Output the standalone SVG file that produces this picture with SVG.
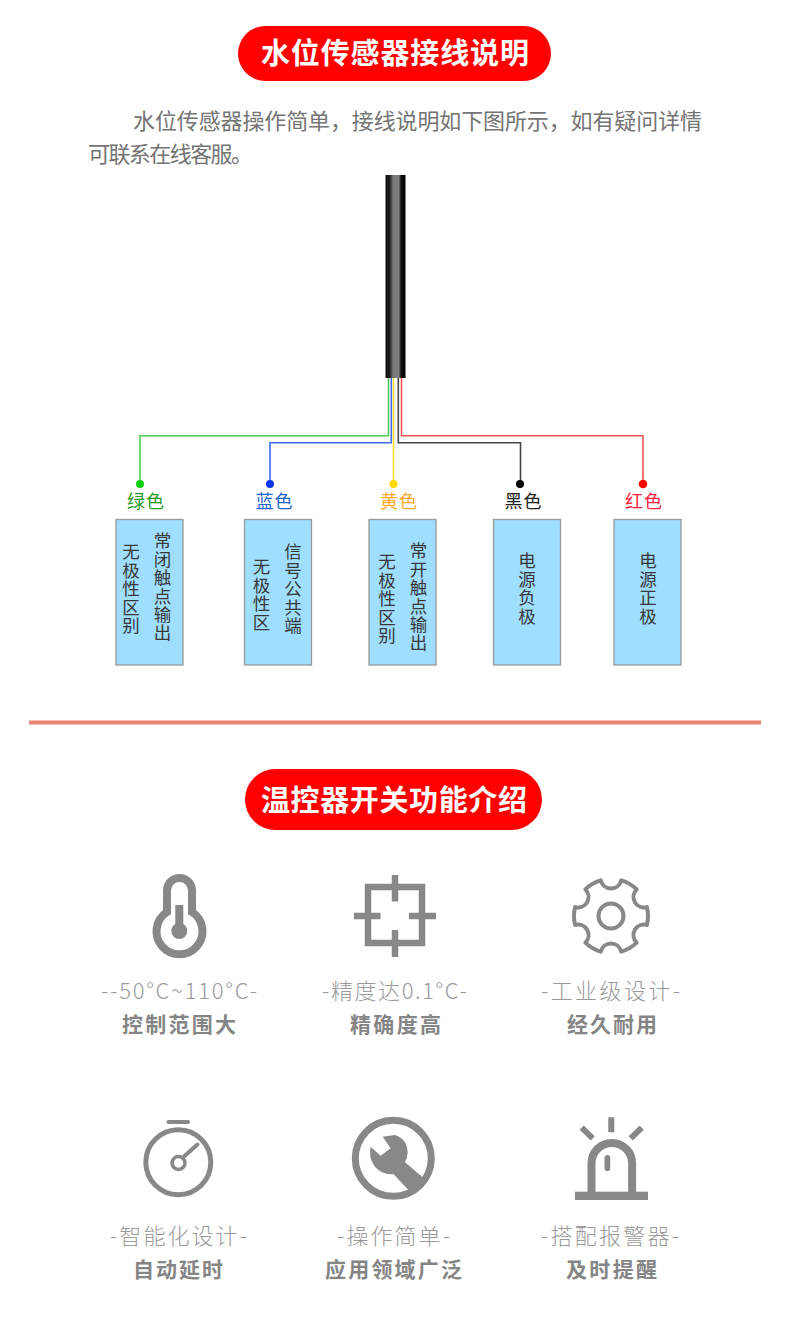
<svg xmlns="http://www.w3.org/2000/svg" width="790" height="1319" viewBox="0 0 790 1319">
<style>
text{font-family:"Noto Sans CJK SC","Noto Sans",sans-serif}
.pill{fill:#ff0000}
.title{fill:#fff;font-size:29px;font-weight:700;text-anchor:middle}
.para{fill:#747474;font-size:22px}
.box{fill:#9fdeff;stroke:#999;stroke-width:1.3}
.v{fill:#383838;font-size:17.5px;writing-mode:vertical-rl;letter-spacing:.9px}
.lab{font-size:18px;font-weight:400;letter-spacing:1px;text-anchor:middle}
.w{fill:none;stroke-width:1.6}
.sub{fill:#9a9a9a;font-size:22px;font-weight:300;text-anchor:middle}
.name{fill:#858585;font-size:21px;font-weight:700;text-anchor:middle}
.ic{fill:none;stroke:#888}
.if{fill:#888}
</style>
<defs>
<linearGradient id="cable" x1="0" x2="1" y1="0" y2="0">
<stop offset="0" stop-color="#111"/><stop offset=".2" stop-color="#1c1c1c"/><stop offset=".38" stop-color="#777"/><stop offset=".66" stop-color="#808080"/><stop offset=".78" stop-color="#111"/><stop offset="1" stop-color="#000"/>
</linearGradient>
</defs>
<rect width="790" height="1319" fill="#fff"/>

<g id="title1"><rect class="pill" x="238" y="26" width="313" height="55" rx="27.5"/><text class="title" x="395" y="64" textLength="268">水位传感器接线说明</text></g>
<g id="intro">
<text class="para" x="133" y="129" textLength="569">水位传感器操作简单，接线说明如下图所示，如有疑问详情</text>
<text class="para" x="88" y="162" textLength="165">可联系在线客服。</text>
</g>

<g id="cable-body"><rect x="385.500" y="175" width="20" height="203" fill="url(#cable)"/></g>

<g id="connectors">
<path class="w" stroke="#4fd04f" d="M388.500 378V435.700H140V484"/>
<path class="w" stroke="#3f6cf0" d="M391.300 378V442.700H270V484"/>
<path class="w" stroke="#ffdc2e" d="M393.500 378V484"/>
<path class="w" stroke="#444" d="M398.300 378V442.700H520.500V484"/>
<path class="w" stroke="#f45555" d="M401.500 378V435.700H643V484"/>
<circle cx="140" cy="484" r="4" fill="#10d010"/>
<circle cx="270" cy="484" r="4" fill="#0a35f0"/>
<circle cx="393.500" cy="484" r="4" fill="#ffd800"/>
<circle cx="520" cy="484" r="4" fill="#000"/>
<circle cx="643" cy="484" r="4.300" fill="#ff0000"/>
</g>

<g id="node-green"><text class="lab" x="146" y="508" fill="#1f9a1f">绿色</text><rect class="box" x="116" y="519.500" width="67" height="145.500"/><text class="v" x="131" y="543">无极性区别</text><text class="v" x="162.500" y="532">常闭触点输出</text></g>
<g id="node-blue"><text class="lab" x="274.500" y="508" fill="#1f66cc">蓝色</text><rect class="box" x="244.500" y="519.500" width="67" height="145.500"/><text class="v" x="261.500" y="558">无极性区</text><text class="v" x="293" y="543">信号公共端</text></g>
<g id="node-yellow"><text class="lab" x="399" y="508" fill="#ffa726">黄色</text><rect class="box" x="369" y="519.500" width="67" height="145.500"/><text class="v" x="387" y="553">无极性区别</text><text class="v" x="418.500" y="542">常开触点输出</text></g>
<g id="node-black"><text class="lab" x="523.500" y="508" fill="#222">黑色</text><rect class="box" x="493.500" y="519.500" width="67" height="145.500"/><text class="v" x="527" y="552">电源负极</text></g>
<g id="node-red"><text class="lab" x="644" y="508" fill="#ff2040">红色</text><rect class="box" x="614" y="519.500" width="67" height="145.500"/><text class="v" x="648" y="552">电源正极</text></g>

<rect id="divider" x="29" y="720.500" width="732" height="4" fill="#ea8577"/>

<g id="title2"><rect class="pill" x="245" y="769" width="297" height="61" rx="30.500"/><text class="title" x="394" y="811" textLength="266">温控器开关功能介绍</text></g>

<g id="feature-temp">
<path class="ic" stroke-width="8" d="M167 912V890.500a12.500 12.500 0 0 1 25 0V912A23 23 0 1 1 167 912Z"/>
<rect class="if" x="175.300" y="905" width="8" height="26"/><circle class="if" cx="179.300" cy="931" r="8"/>
<text class="sub" x="179" y="999" textLength="156">--50°C~110°C-</text><text class="name" x="179" y="1032" textLength="114">控制范围大</text>
</g>
<g id="feature-precision">
<rect class="ic" stroke-width="6.500" x="368" y="887" width="54" height="56"/>
<path class="ic" stroke-width="6.500" d="M395 875V901.500M395 930V957M354 916H380.500M409 916H436"/>
<text class="sub" x="394.500" y="999" textLength="145">-精度达0.1°C-</text><text class="name" x="395.500" y="1032" textLength="91">精确度高</text>
</g>
<g id="feature-industrial">
<path class="ic" stroke-width="4" stroke-linejoin="round" transform="translate(611 916)" d="M35.900-8.950A37 37 0 0 1 35.900 8.950A10.500 10.500 0 0 0 25.700 26.600A37 37 0 0 1 10.200 35.600A10.500 10.500 0 0 0-10.200 35.600A37 37 0 0 1-25.700 26.600A10.500 10.500 0 0 0-35.900 8.950A37 37 0 0 1-35.900-8.950A10.500 10.500 0 0 0-25.700-26.600A37 37 0 0 1-10.200-35.600A10.500 10.500 0 0 0 10.200-35.600A37 37 0 0 1 25.700-26.600A10.500 10.500 0 0 0 35.900-8.950Z"/>
<circle class="ic" stroke-width="4" cx="611" cy="916" r="12.500"/>
<text class="sub" x="610.500" y="999" textLength="139">-工业级设计-</text><text class="name" x="612" y="1032" textLength="90">经久耐用</text>
</g>
<g id="feature-delay">
<path class="ic" stroke-width="4" stroke-linecap="round" d="M168.500 1122H188"/>
<circle class="ic" stroke-width="5" cx="178.300" cy="1162.300" r="32.500"/>
<circle class="ic" stroke-width="3.500" cx="178.500" cy="1163" r="6.500"/>
<path class="ic" stroke-width="4" stroke-linecap="round" d="M184.500 1156L197.500 1144.500"/>
<text class="sub" x="178.500" y="1244" textLength="137">-智能化设计-</text><text class="name" x="178" y="1277" textLength="90">自动延时</text>
</g>
<g id="feature-app">
<circle class="ic" stroke-width="7" cx="393.300" cy="1158.300" r="38"/>
<path class="if" transform="translate(100 1105) scale(.3333)" d="M848 95L885 90Q905 95 917 115Q930 145 915 172L978 225L935 265L880 207Q850 212 825 185Q805 160 812 125L842 152L872 130Z"/>
<text class="sub" x="393.500" y="1244" textLength="113">-操作简单-</text><text class="name" x="393.500" y="1277" textLength="137">应用领域广泛</text>
</g>
<g id="feature-alarm">
<rect class="if" x="575" y="1191.700" width="73" height="8.300"/>
<path class="ic" stroke-width="8" d="M591.500 1192V1163.300a20.300 20.300 0 0 1 40.600 0V1192"/>
<rect class="if" x="604.500" y="1155" width="5.700" height="16" rx="2.850"/>
<path class="ic" stroke-width="6" d="M611.300 1117.300V1132.300M581.700 1127.700L592.700 1138.300M641.700 1127.700L630.700 1138.300"/>
<text class="sub" x="610" y="1244" textLength="138">-搭配报警器-</text><text class="name" x="611.500" y="1277" textLength="91">及时提醒</text>
</g>
</svg>
